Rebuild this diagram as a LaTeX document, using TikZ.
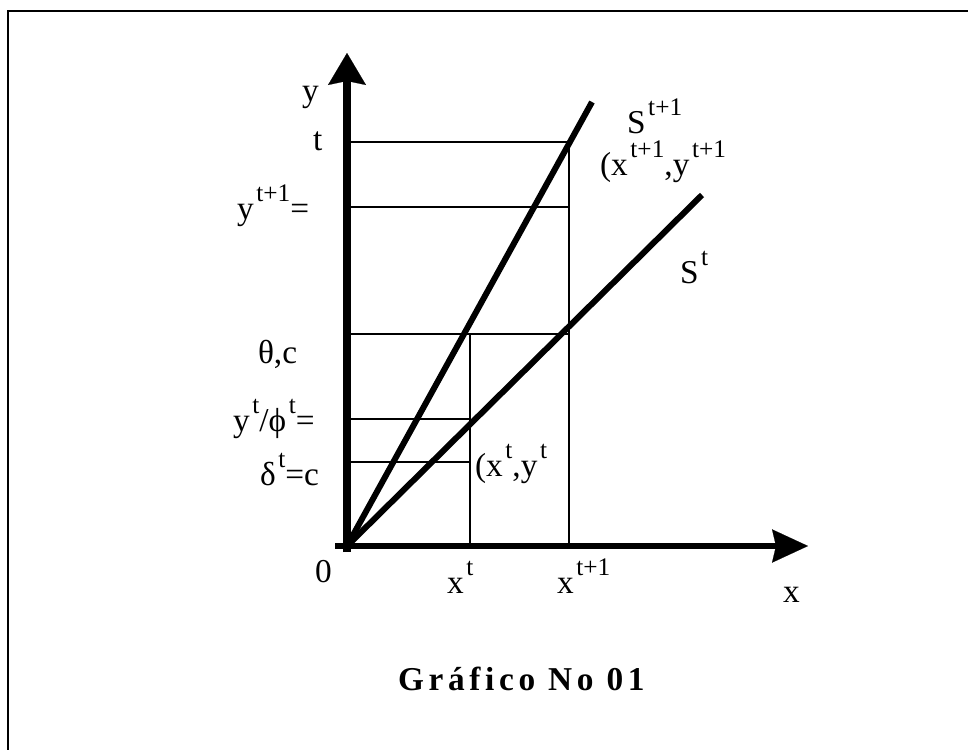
\documentclass[tikz,border=0pt]{standalone}
\usepackage{fontspec}
\setmainfont{Liberation Serif}
\usetikzlibrary{arrows.meta}
\newcommand\upidx[1]{\kern2pt\raisebox{13pt}{\fontsize{19}{19}\selectfont #1}}
\begin{document}
\begin{tikzpicture}[x=0.75pt,y=-0.75pt,
  lbl/.style={anchor=base west,inner sep=0pt,outer sep=0pt,font=\fontsize{25}{25}\selectfont},
  thin/.style={line width=1.1pt},
  axisy/.style={line width=6pt,-{Stealth[length=24pt,width=28.5pt,inset=3pt,line width=0.1pt]}},
  axisx/.style={line width=4.5pt,-{Stealth[length=27pt,width=25pt,inset=3pt,line width=0.1pt]}},
  ray/.style={line width=4.5pt},
  frame/.style={line width=1.8pt}]
\useasboundingbox (0,0) rectangle (968,750);
% frame
\draw[frame] (8,752) -- (8,11) -- (970,11);
% coordinates
\coordinate (O) at (347,546);
\coordinate (Ybot) at (347,552);
\coordinate (Ytip) at (347,53);
\coordinate (Xbeg) at (335,546);
\coordinate (Xtip) at (808,546);
\coordinate (yT) at (347,142);
\coordinate (yT1) at (347,207);
\coordinate (yTh) at (347,334);
\coordinate (yPh) at (347,419);
\coordinate (yDe) at (347,462);
\coordinate (aT) at (569,142);
\coordinate (aT1) at (569,207);
\coordinate (aTh) at (569,334);
\coordinate (bTh) at (470,334);
\coordinate (bPh) at (470,419);
\coordinate (bDe) at (470,462);
\coordinate (xt) at (470,546);
\coordinate (xt1) at (569,546);
\coordinate (S1end) at (592,102);
\coordinate (S0end) at (702,195);
% thin grid lines
\draw[thin] (yT) -- (aT);
\draw[thin] (yT1) -- (aT1);
\draw[thin] (yTh) -- (aTh);
\draw[thin] (yPh) -- (bPh);
\draw[thin] (yDe) -- (bDe);
\draw[thin] (bTh) -- (xt);
\draw[thin] (aT) -- (xt1);
% rays
\draw[ray] (O) -- (S1end);
\draw[ray] (O) -- (S0end);
% axes
\draw[axisx] (Xbeg) -- (Xtip);
\draw[axisy] (Ybot) -- (Ytip);
% labels
\node[lbl] (ylab) at (302,101) {y};
\node[lbl] (tlab) at (313,150) {t};
\node[lbl] (yt1lab) at (237,219) {y\upidx{t+1}=};
\node[lbl] (thlab) at (258,363) {θ,c};
\node[lbl] (yphlab) at (233,431) {y\upidx{t}/ϕ\upidx{t}=};
\node[lbl] (delab) at (260,485) {δ\upidx{t}=c};
\node[lbl] (zlab) at (315,582) {0};
\node[lbl] (xtlab) at (447,593) {x\upidx{t}};
\node[lbl] (xt1lab) at (557,593) {x\upidx{t+1}};
\node[lbl] (xlab) at (783,602) {x};
\node[lbl] (ptlab) at (475,476) {(x\upidx{t},y\upidx{t}};
\node[lbl] (S1lab) at (627,133) {S\upidx{t+1}};
\node[lbl] (pt1lab) at (600,175) {(x\upidx{t+1},y\upidx{t+1}};
\node[lbl] (S0lab) at (680,283) {S\upidx{t}};
\node[lbl,font=\fontsize{25}{25}\selectfont\bfseries\addfontfeatures{LetterSpace=14}] (title) at (398,690) {Gráfico No 01};
\end{tikzpicture}
\end{document}
